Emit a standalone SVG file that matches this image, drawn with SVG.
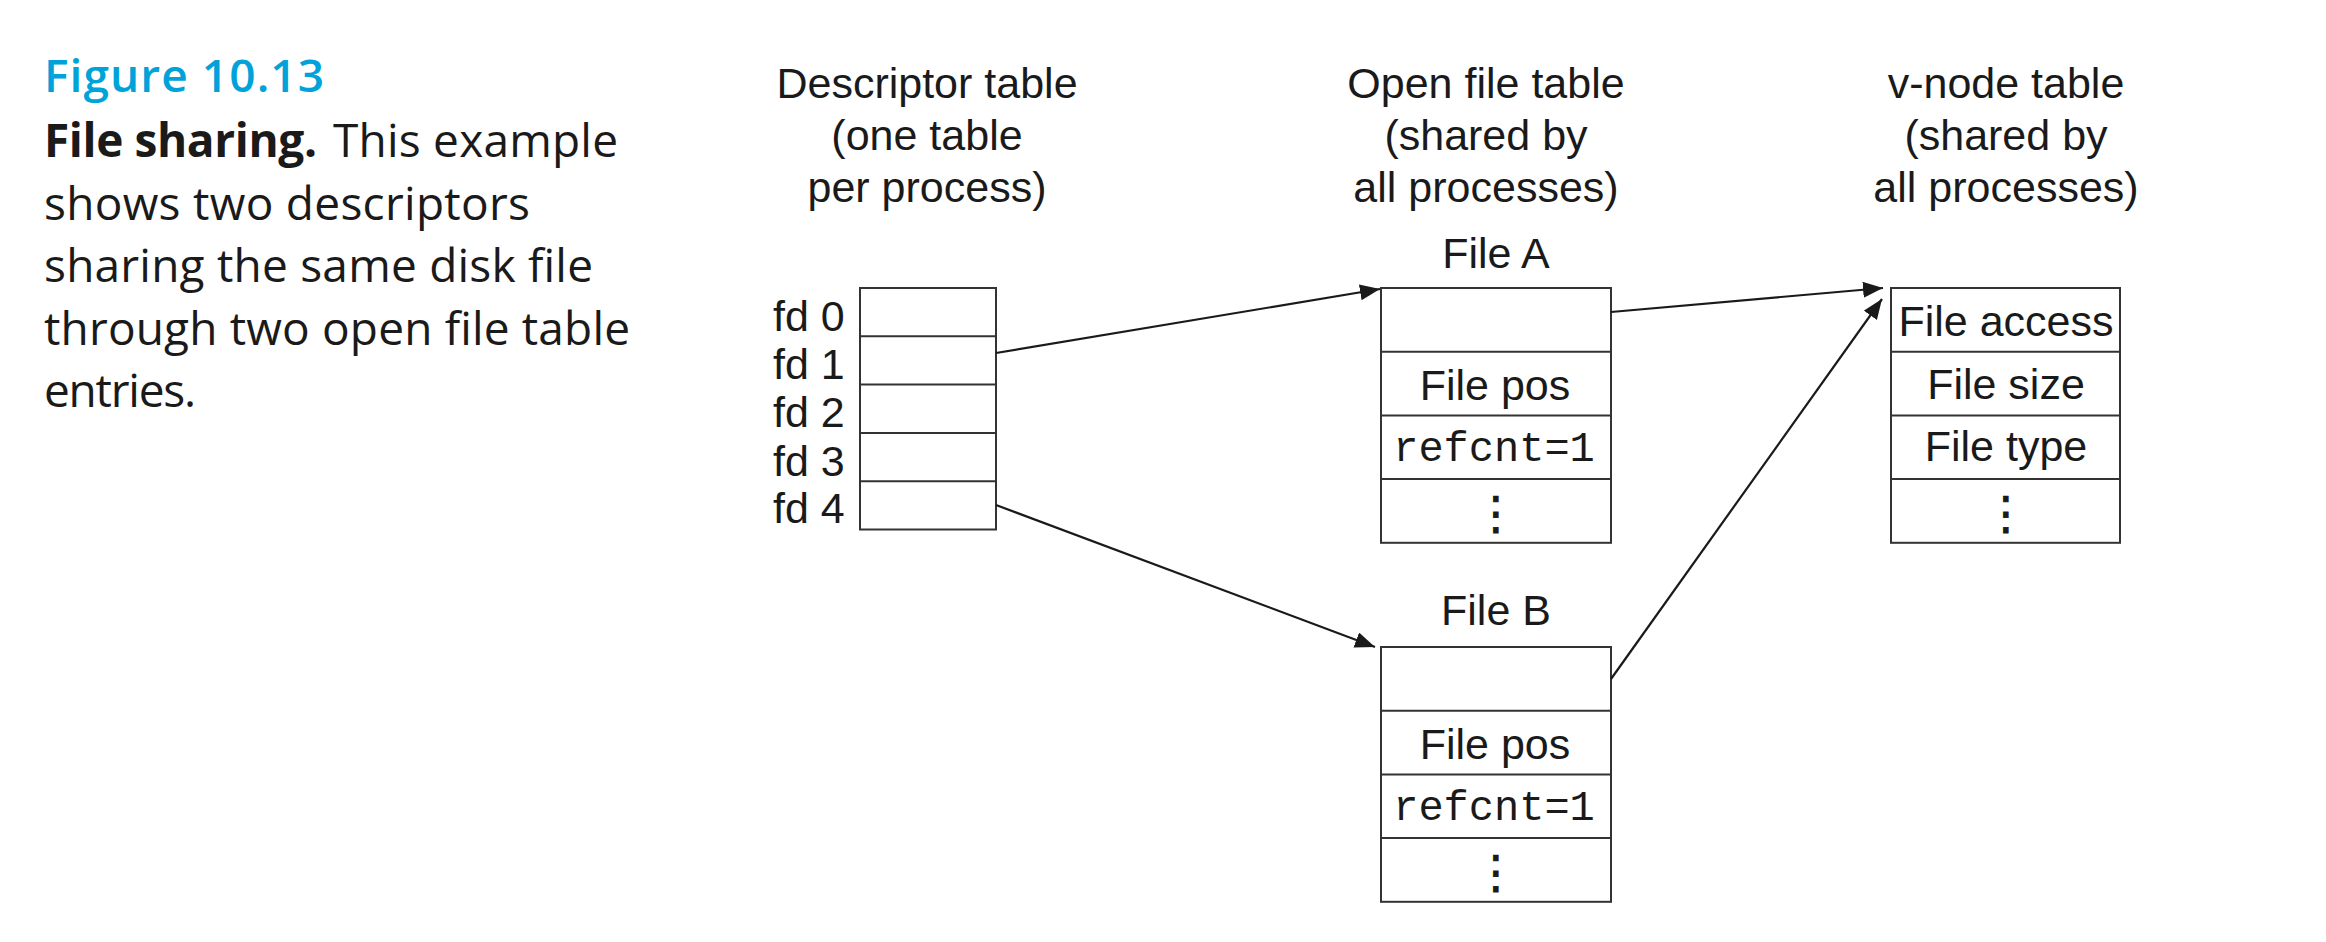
<svg xmlns="http://www.w3.org/2000/svg" width="2326" height="942" viewBox="0 0 2326 942">
  <defs>
    <style>
      .cap { font-family: "Open Sans", "Noto Sans", sans-serif; font-size: 46px; fill: #1a1a1a; }
      .fig { font-family: "Open Sans", "Noto Sans", sans-serif; font-size: 46px; font-weight: 600; fill: #00a3d9; }
      .b { font-weight: 700; }
      .lbl { font-family: "Liberation Sans", Arial, sans-serif; font-size: 43px; fill: #1a1a1a; text-anchor: middle; }
      .fd { font-family: "Liberation Sans", Arial, sans-serif; font-size: 43px; fill: #1a1a1a; }
      .mono { font-family: "Liberation Mono", "Courier New", monospace; font-size: 42px; fill: #1a1a1a; text-anchor: middle; }
      .dots { font-family: "DejaVu Sans", sans-serif; font-size: 46px; fill: #1a1a1a; stroke: #1a1a1a; stroke-width: 0.8; text-anchor: middle; }
      .box { fill: #ffffff; stroke: #333333; stroke-width: 2; }
      .sep { stroke: #333333; stroke-width: 2; }
      .conn { stroke: #1a1a1a; stroke-width: 2.2; fill: none; marker-end: url(#arrow); }
    </style>
    <marker id="arrow" markerUnits="userSpaceOnUse" markerWidth="22" markerHeight="18" refX="20" refY="8" orient="auto">
      <path d="M0,0 L20,8 L0,16 z" fill="#1a1a1a"/>
    </marker>
  </defs>
  <rect width="2326" height="942" fill="#ffffff"/>

  <g id="caption">
    <text class="fig" x="44" y="92" textLength="280">Figure 10.13</text>
    <text class="cap b" x="44" y="157" textLength="273">File sharing.</text>
    <text class="cap" x="333" y="157" textLength="285">This example</text>
    <text class="cap" x="44" y="220" textLength="486">shows two descriptors</text>
    <text class="cap" x="44" y="282" textLength="549">sharing the same disk file</text>
    <text class="cap" x="44" y="345" textLength="586">through two open file table</text>
    <text class="cap" x="44" y="407" textLength="152">entries.</text>
  </g>

  <g id="descriptor-table">
    <text class="lbl" x="927" y="98">Descriptor table</text>
    <text class="lbl" x="927" y="150">(one table</text>
    <text class="lbl" x="927" y="202">per process)</text>
    <rect class="box" x="860" y="288" width="136" height="241.5"/>
    <line class="sep" x1="860" y1="336.3" x2="996" y2="336.3"/>
    <line class="sep" x1="860" y1="384.6" x2="996" y2="384.6"/>
    <line class="sep" x1="860" y1="432.9" x2="996" y2="432.9"/>
    <line class="sep" x1="860" y1="481.2" x2="996" y2="481.2"/>
    <text class="fd" x="773" y="331">fd 0</text>
    <text class="fd" x="773" y="379">fd 1</text>
    <text class="fd" x="773" y="427">fd 2</text>
    <text class="fd" x="773" y="476">fd 3</text>
    <text class="fd" x="773" y="523">fd 4</text>
  </g>

  <g id="open-file-table-header">
    <text class="lbl" x="1486" y="98">Open file table</text>
    <text class="lbl" x="1486" y="150">(shared by</text>
    <text class="lbl" x="1486" y="202">all processes)</text>
  </g>

  <g id="file-a">
    <text class="lbl" x="1496" y="268">File A</text>
    <rect class="box" x="1381" y="288" width="230" height="254.8"/>
    <line class="sep" x1="1381" y1="351.7" x2="1611" y2="351.7"/>
    <line class="sep" x1="1381" y1="415.4" x2="1611" y2="415.4"/>
    <line class="sep" x1="1381" y1="479.1" x2="1611" y2="479.1"/>
    <text class="lbl" x="1495" y="400">File pos</text>
    <text class="mono" x="1494" y="461">refcnt=1</text>
    <text class="dots" x="1496" y="529">⋮</text>
  </g>

  <g id="file-b">
    <text class="lbl" x="1496" y="625">File B</text>
    <rect class="box" x="1381" y="647" width="230" height="254.8"/>
    <line class="sep" x1="1381" y1="710.7" x2="1611" y2="710.7"/>
    <line class="sep" x1="1381" y1="774.4" x2="1611" y2="774.4"/>
    <line class="sep" x1="1381" y1="838.1" x2="1611" y2="838.1"/>
    <text class="lbl" x="1495" y="759">File pos</text>
    <text class="mono" x="1494" y="820">refcnt=1</text>
    <text class="dots" x="1496" y="888">⋮</text>
  </g>

  <g id="vnode-table">
    <text class="lbl" x="2006" y="98">v-node table</text>
    <text class="lbl" x="2006" y="150">(shared by</text>
    <text class="lbl" x="2006" y="202">all processes)</text>
    <rect class="box" x="1891" y="288" width="229" height="254.8"/>
    <line class="sep" x1="1891" y1="351.7" x2="2120" y2="351.7"/>
    <line class="sep" x1="1891" y1="415.4" x2="2120" y2="415.4"/>
    <line class="sep" x1="1891" y1="479.1" x2="2120" y2="479.1"/>
    <text class="lbl" x="2006" y="336">File access</text>
    <text class="lbl" x="2006" y="399">File size</text>
    <text class="lbl" x="2006" y="461">File type</text>
    <text class="dots" x="2006" y="529">⋮</text>
  </g>

  <g id="connectors">
    <line class="conn" x1="996" y1="353" x2="1380" y2="289"/>
    <line class="conn" x1="996" y1="505" x2="1375" y2="647"/>
    <line class="conn" x1="1611" y1="312" x2="1883" y2="288"/>
    <line class="conn" x1="1611" y1="679" x2="1882" y2="299"/>
  </g>
</svg>
